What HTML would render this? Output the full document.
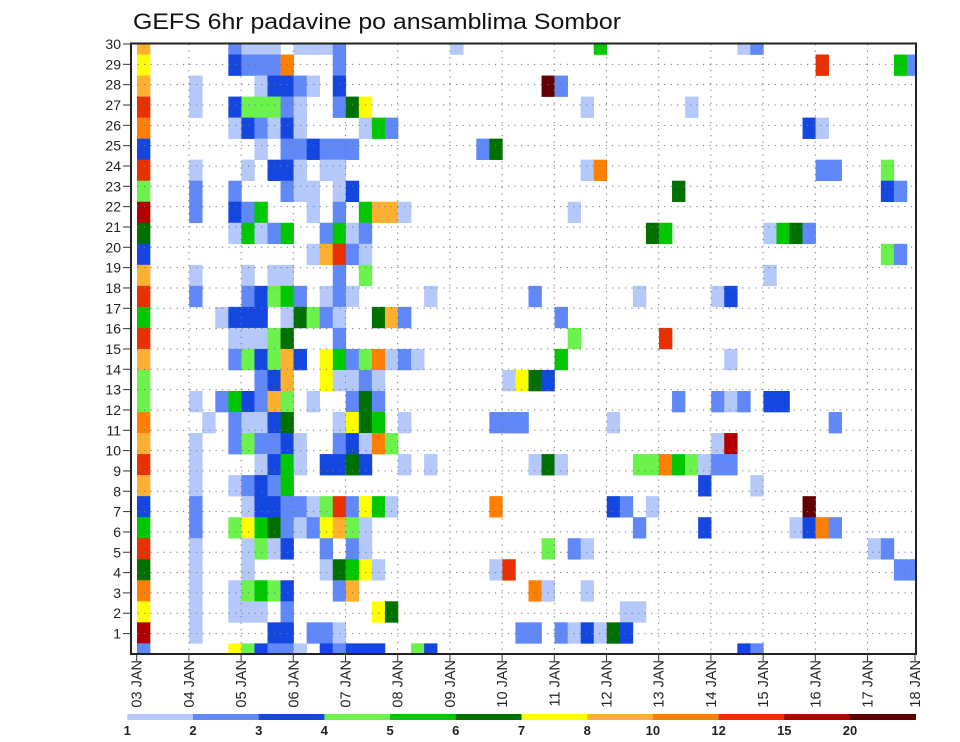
<!DOCTYPE html>
<html><head><meta charset="utf-8"><style>
html,body{margin:0;padding:0;background:#fff;}
svg{display:block;font-family:"Liberation Sans",sans-serif;}
</style></head><body>
<svg id="chart" width="960" height="742" viewBox="0 0 960 742" xmlns="http://www.w3.org/2000/svg">
<text x="133" y="29" font-size="22" textLength="488" lengthAdjust="spacingAndGlyphs" fill="#111">GEFS 6hr padavine po ansamblima Sombor</text>
<defs><clipPath id="plotclip"><rect x="131" y="44" width="785" height="610"/></clipPath></defs>
<g id="cells" clip-path="url(#plotclip)"></g>
<g id="grid"></g>
<rect x="131" y="43.5" width="785" height="610.5" fill="none" stroke="#222" stroke-width="2"/>
<g id="yaxis"></g>
<g id="xaxis"></g>
<g id="legend"></g>
</svg>
<script>
// bin colours (index = bin code)
const binColors = ["none","#b4c8fa","#6088f8","#1446e0","#6cf24c","#00c800","#007000","#ffff00","#ffb030","#ff8000","#e83000","#b00000","#600000"];
const legendLabels = ["1","2","3","4","5","6","7","8","10","12","15","20"];
const dayLabels = ["03 JAN","04 JAN","05 JAN","06 JAN","07 JAN","08 JAN","09 JAN","10 JAN","11 JAN","12 JAN","13 JAN","14 JAN","15 JAN","16 JAN","17 JAN","18 JAN"];
const memberLabels = [30,29,28,27,26,25,24,23,22,21,20,19,18,17,16,15,14,13,12,11,10,9,8,7,6,5,4,3,2,1];
// rows top->bottom; tokens "column(6h step):bin code (hex)"
const row00 = "0:8 7:2 8:1 9:1 10:1 12:1 13:1 14:1 15:2 24:1 35:5 46:1 47:2";
const row01 = "0:7 7:3 8:2 9:2 10:2 11:9 15:2 52:a 58:5 59:2";
const row02 = "0:8 4:1 9:1 10:3 11:3 12:2 13:1 15:3 31:c 32:2";
const row03 = "0:a 4:1 7:3 8:4 9:4 10:4 11:2 12:1 15:2 16:6 17:7 34:1 42:1";
const row04 = "0:9 7:1 8:3 9:2 10:1 11:3 12:1 17:1 18:5 19:2 51:3 52:1";
const row05 = "0:3 9:1 11:2 12:2 13:3 14:2 15:2 16:2 26:2 27:6";
const row06 = "0:a 4:1 8:1 10:3 11:3 12:1 14:1 15:1 34:1 35:9 52:2 53:2 57:4";
const row07 = "0:4 4:2 7:2 11:2 12:1 13:1 15:1 16:3 41:6 57:3 58:2";
const row08 = "0:b 4:2 7:3 8:2 9:5 13:1 15:2 17:5 18:8 19:8 20:1 33:1";
const row09 = "0:6 7:1 8:5 9:1 10:2 11:5 14:2 15:5 16:1 17:2 39:6 40:5 48:1 49:5 50:6 51:2";
const row10 = "0:3 13:1 14:8 15:a 16:2 17:1 57:4 58:2";
const row11 = "0:8 4:1 8:1 10:1 11:1 15:2 17:4 48:1";
const row12 = "0:a 4:2 8:2 9:3 10:4 11:5 12:2 14:1 15:2 16:1 22:1 30:2 38:1 44:1 45:3";
const row13 = "0:5 6:1 7:3 8:3 9:3 11:1 12:6 13:4 14:2 15:1 18:6 19:8 20:2 32:2";
const row14 = "0:a 7:1 8:1 9:1 10:4 11:6 15:2 33:4 40:a";
const row15 = "0:8 7:2 8:4 9:3 10:4 11:8 12:3 14:7 15:5 16:2 17:4 18:9 19:1 20:2 21:1 32:5 45:1";
const row16 = "0:4 9:2 10:3 11:8 14:7 15:1 16:1 17:2 18:1 28:1 29:7 30:6 31:3";
const row17 = "0:4 4:1 6:2 7:5 8:3 9:2 10:8 11:4 13:1 16:2 17:6 18:2 41:2 44:2 45:1 46:2 48:3 49:3";
const row18 = "0:9 5:1 7:2 8:1 9:1 10:3 11:6 15:1 16:7 17:6 18:5 20:1 27:2 28:2 29:2 36:1 53:2";
const row19 = "0:8 4:1 7:2 8:4 9:2 10:2 11:3 12:1 15:2 16:3 17:1 18:9 19:4 44:1 45:b";
const row20 = "0:a 4:1 9:1 10:3 11:5 12:1 14:3 15:3 16:6 17:3 20:1 22:1 30:1 31:6 32:1 38:4 39:4 40:9 41:5 42:4 43:1 44:2 45:2";
const row21 = "0:8 4:1 7:1 8:2 9:3 10:2 11:5 43:3 47:1";
const row22 = "0:3 4:2 8:1 9:3 10:3 11:2 12:2 13:1 14:4 15:a 16:2 17:7 18:5 19:1 27:9 36:3 37:2 39:1 51:c";
const row23 = "0:5 4:2 7:4 8:7 9:5 10:6 11:2 12:1 13:2 14:7 15:8 16:4 17:1 38:2 43:3 50:1 51:3 52:9 53:2";
const row24 = "0:a 4:1 8:1 9:4 10:1 11:3 14:2 16:2 17:1 31:4 33:2 34:1 56:1 57:2";
const row25 = "0:6 4:1 8:1 14:1 15:6 16:5 17:7 18:1 27:1 28:a 58:2 59:2";
const row26 = "0:9 4:1 7:1 8:4 9:5 10:4 11:3 15:2 16:8 30:9 31:1 34:1";
const row27 = "0:7 4:1 7:1 8:1 9:1 11:2 18:7 19:6 37:1 38:1";
const row28 = "0:b 4:1 10:3 11:3 13:2 14:2 15:1 29:2 30:2 32:2 33:1 34:3 35:1 36:6 37:3";
const row29 = "0:2 7:7 8:4 9:3 10:2 11:2 12:1 14:3 15:2 16:3 17:3 18:3 21:4 22:3 46:3 47:2";
const rows = [row00,row01,row02,row03,row04,row05,row06,row07,row08,row09,row10,row11,row12,row13,row14,row15,row16,row17,row18,row19,row20,row21,row22,row23,row24,row25,row26,row27,row28,row29];

const NS = "http://www.w3.org/2000/svg";
const X0 = 137.0, DAY = 52.2, COLW = DAY/4;
const ROW0 = 44, ROWH = 21.03;
const xCol = c => X0 + c*COLW;
const xDay = d => 136.7 + d*DAY;
const yRow = i => ROW0 + i*ROWH;
const yLabel = n => 44 + (30-n)*20.33;
function mk(tag, attrs, parent){ const e=document.createElementNS(NS,tag); for(const k in attrs) e.setAttribute(k,attrs[k]); parent.appendChild(e); return e; }

const cells = document.getElementById('cells');
rows.forEach((r,i)=>{
  r.split(' ').forEach(tok=>{
    const [c,b] = tok.split(':');
    const col = parseInt(c,10), bin = parseInt(b,16);
    const e = mk('rect',{x:xCol(col).toFixed(2), y:(yRow(i)-ROWH/2).toFixed(2), width:(COLW+0.3).toFixed(2), height:(ROWH+0.3).toFixed(2), fill:binColors[bin]}, cells);
    
    
  });
});

const grid = document.getElementById('grid');
for(let n=1;n<=29;n++){
  const e = mk('line',{x1:131,x2:916,y1:yLabel(n),y2:yLabel(n),stroke:'#777','stroke-width':1,'stroke-dasharray':'1.2 5.3'}, grid);
  
  
}
for(let d=1;d<15;d++){
  const e = mk('line',{x1:xDay(d),x2:xDay(d),y1:44,y2:654,stroke:'#777','stroke-width':1,'stroke-dasharray':'1.2 5.3'}, grid);
  
  
}

const yaxis = document.getElementById('yaxis');
memberLabels.forEach(n=>{
  const y = yLabel(n);
  const t = mk('line',{x1:123,x2:131,y1:y,y2:y,stroke:'#333','stroke-width':1}, yaxis);
  
  
  const l = mk('text',{x:121,y:y+5,'text-anchor':'end','font-size':14,fill:'#222'}, yaxis);
  l.textContent = n;
  
  
});

const xaxis = document.getElementById('xaxis');
dayLabels.forEach((s,d)=>{
  const x = Math.min(xDay(d), 915);
  const t = mk('line',{x1:x,x2:x,y1:654,y2:661,stroke:'#333','stroke-width':1}, xaxis);
  
  
  const l = mk('text',{x:0,y:0,'text-anchor':'end','font-size':14.5,fill:'#222',transform:`translate(${(x+5).toFixed(1)},660) rotate(-90)`}, xaxis);
  l.textContent = s;
  
  
});

const legend = document.getElementById('legend');
const LX = 127.3, LW = 65.7;
for(let k=1;k<binColors.length;k++){
  const r = mk('rect',{x:(LX+(k-1)*LW).toFixed(2),y:714,width:(LW+0.3).toFixed(2),height:6,fill:binColors[k]}, legend);
  
  
}
legendLabels.forEach((s,k)=>{
  const l = mk('text',{x:(LX+k*LW).toFixed(2),y:735,'text-anchor':'middle','font-size':13,'font-weight':'bold',fill:'#222'}, legend);
  l.textContent = s;
  
  
});
</script>
</body></html>
